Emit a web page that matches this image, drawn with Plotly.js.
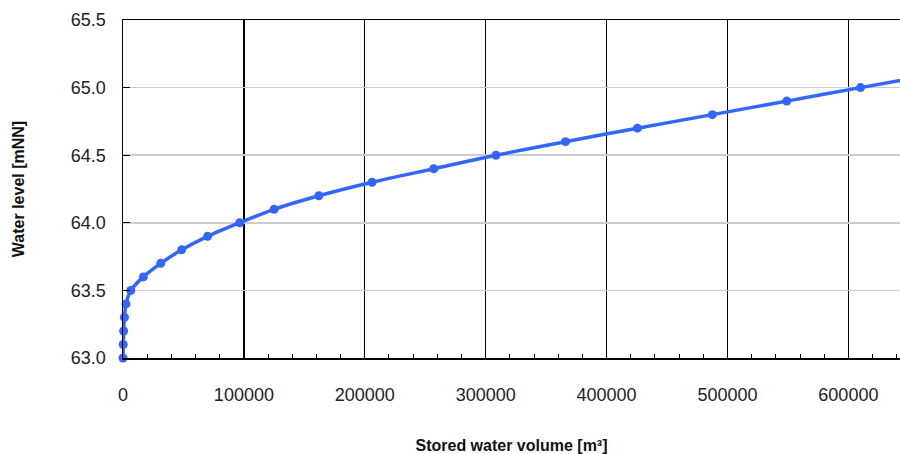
<!DOCTYPE html>
<html>
<head>
<meta charset="utf-8">
<script src="https://cdn.plot.ly/plotly-3.0.1.min.js"></script>
<style>html,body{margin:0;padding:0;background:#fff;}#chart{width:900px;height:454px;}</style>
</head>
<body>
<div id="chart"></div>
<script>
// Stored water volume [m³] per water level [mNN]
const volume = [0, 200, 500, 1200, 2500, 6500, 16800, 31200, 48500, 70000, 96500, 125000, 162000, 206000, 257000, 308500, 366000, 425500, 487500, 549000, 610000, 673000];
const level  = [63.0, 63.1, 63.2, 63.3, 63.4, 63.5, 63.6, 63.7, 63.8, 63.9, 64.0, 64.1, 64.2, 64.3, 64.4, 64.5, 64.6, 64.7, 64.8, 64.9, 65.0, 65.1];
const xTitle = "Stored water volume [m³]";
const yTitle = "Water level [mNN]";

const blue = "#3366ff";
const font = "Liberation Sans, Arial, sans-serif";

Plotly.newPlot("chart", [{
  x: volume, y: level, type: "scatter", mode: "lines+markers",
  line: {color: blue, width: 3.5, shape: "spline", smoothing: 0.8},
  marker: {color: blue, size: 9, symbol: "circle"},
  cliponaxis: false, showlegend: false, hoverinfo: "skip"
}], {
  width: 900, height: 454,
  margin: {l: 123, r: 0, t: 20, b: 96},
  paper_bgcolor: "#fff", plot_bgcolor: "#fff",
  font: {family: font, color: "#222", size: 18},
  xaxis: {
    range: [0, 642700], dtick: 100000, tick0: 0, tickformat: "d",
    showgrid: true, gridcolor: "#000", gridwidth: 1.2,
    showline: true, linecolor: "#000", linewidth: 1.5, mirror: true,
    ticks: "inside", ticklen: 0, zeroline: false,
    ticklabelstandoff: 20,
    minor: {dtick: 20000, ticks: "inside", ticklen: 4, tickcolor: "#000", tickwidth: 1, showgrid: false},
    tickfont: {size: 18, family: font, color: "#222"},
    title: {text: xTitle, font: {size: 16, family: font, color: "#111", weight: "bold"}, standoff: 38}
  },
  yaxis: {
    range: [63, 65.5], dtick: 0.5, tick0: 63, tickformat: ".1f",
    showgrid: true, gridcolor: "#cccccc", gridwidth: 1.5,
    showline: true, linecolor: "#000", linewidth: 1.5,
    ticks: "inside", ticklen: 7, tickcolor: "#000", zeroline: false,
    ticklabelstandoff: 12,
    tickfont: {size: 18, family: font, color: "#222"},
    title: {text: yTitle, font: {size: 16, family: font, color: "#111", weight: "bold"}, standoff: 42}
  }
}, {staticPlot: true, displayModeBar: false});
</script>
</body>
</html>
